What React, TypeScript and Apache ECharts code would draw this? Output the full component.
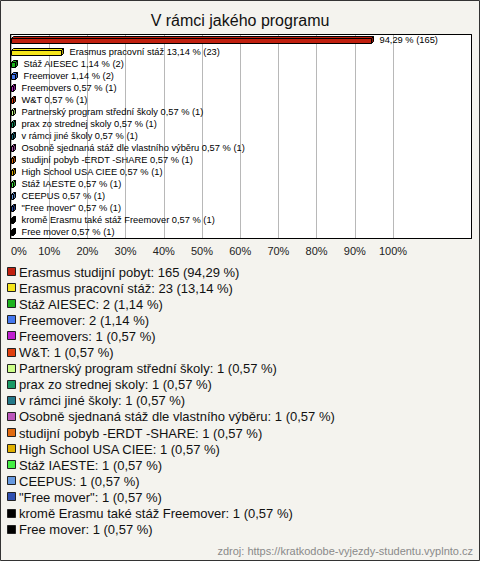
import React, { useEffect, useRef } from "react";
import * as echarts from "echarts";

const title = "V rámci jakého programu";
const categories = [
  "Erasmus studijní pobyt",
  "Erasmus pracovní stáž",
  "Stáž AIESEC",
  "Freemover",
  "Freemovers",
  "W&T",
  "Partnerský program střední školy",
  "prax zo strednej skoly",
  "v rámci jiné školy",
  "Osobně sjednaná stáž dle vlastního výběru",
  "studijní pobyb -ERDT -SHARE",
  "High School USA CIEE",
  "Stáž IAESTE",
  "CEEPUS",
  '"Free mover"',
  "kromě Erasmu také stáž Freemover",
  "Free mover",
];
const counts = [165, 23, 2, 2, 1, 1, 1, 1, 1, 1, 1, 1, 1, 1, 1, 1, 1];
const percents = [94.29, 13.14, 1.14, 1.14, 0.57, 0.57, 0.57, 0.57, 0.57, 0.57, 0.57, 0.57, 0.57, 0.57, 0.57, 0.57, 0.57];
const showNameInBarLabel = [false, true, true, true, true, true, true, true, true, true, true, true, true, true, true, true, true];
const colors = [
  "#c0200f", "#f5e51b", "#1db31d", "#4477ee", "#c020d0", "#e0400f",
  "#ccff88", "#199966", "#227788", "#bb55bb", "#e06a10", "#e0b000",
  "#44ee44", "#6699e0", "#2f4fb0", "#000000", "#000000",
];
const xTicks = [0, 10, 20, 30, 40, 50, 60, 70, 80, 90, 100];
const sourceText = "zdroj: https://kratkodobe-vyjezdy-studentu.vyplnto.cz";

const FONT = "'Liberation Sans', Arial, sans-serif";
const fmtPct = (v: number) => v.toFixed(2).replace(".", ",");

function darken(hex: string, f: number) {
  const n = parseInt(hex.slice(1), 16);
  const r = Math.round(((n >> 16) & 255) * f);
  const g = Math.round(((n >> 8) & 255) * f);
  const b = Math.round((n & 255) * f);
  return `rgb(${r},${g},${b})`;
}

export default function App() {
  const ref = useRef<HTMLDivElement>(null);
  useEffect(() => {
    if (!ref.current) return;
    const chart = echarts.init(ref.current, undefined, { renderer: "svg" });

    const legendTop = 272;
    const legendStep = 16.1;
    const legendElements: any[] = [];
    categories.forEach((c, i) => {
      const cy = legendTop + i * legendStep;
      legendElements.push({
        type: "rect",
        shape: { x: 7.5, y: Math.round(cy) - 4.5, width: 8, height: 8 },
        style: { fill: colors[i], stroke: "#222", lineWidth: 1 },
      });
      legendElements.push({
        type: "text",
        x: 19,
        y: cy,
        style: {
          text: `${c}: ${counts[i]} (${fmtPct(percents[i])} %)`,
          font: `13px ${FONT}`,
          fill: "#111",
          verticalAlign: "middle",
        },
      });
    });

    const option: any = {
      animation: false,
      backgroundColor: "#f4f3ee",
      title: {
        text: title,
        left: "center",
        top: 7,
        textStyle: { fontSize: 16, fontWeight: "normal", color: "#111", fontFamily: FONT },
      },
      grid: { left: 11, right: 87, top: 35, bottom: 322, containLabel: false },
      xAxis: {
        type: "value",
        min: 0,
        max: 100,
        interval: 10,
        axisLine: { show: false },
        axisTick: { show: false },
        splitLine: { show: true, lineStyle: { color: "#b8b8b8", width: 1 } },
        axisLabel: {
          margin: 6,
          fontSize: 11,
          color: "#222",
          fontFamily: FONT,
          alignMinLabel: "left",
          formatter: (v: number) => (xTicks.includes(v) ? `${v}%` : ""),
        },
      },
      yAxis: {
        type: "category",
        inverse: true,
        data: categories,
        show: false,
      },
      graphic: [
        {
          type: "rect",
          z: -100,
          shape: { x: 10.5, y: 34.5, width: 461, height: 204 },
          style: { fill: "#ffffff", stroke: "#000", lineWidth: 1 },
        },
        {
          type: "rect",
          z: 100,
          shape: { x: 10.5, y: 34.5, width: 461, height: 204 },
          style: { fill: "none", stroke: "#000", lineWidth: 1 },
        },
        {
          type: "rect",
          z: 100,
          shape: { x: 0.5, y: 0.5, width: 479, height: 560 },
          style: { fill: "none", stroke: "#333", lineWidth: 1 },
        },
        ...legendElements,
        {
          type: "text",
          right: 7,
          top: 545,
          style: { text: sourceText, font: `11px ${FONT}`, fill: "#8a8a8a" },
        },
      ],
      series: [
        {
          type: "custom",
          coordinateSystem: "cartesian2d",
          encode: { x: 0, y: 1 },
          data: percents.map((p, i) => [p, i]),
          renderItem: (params: any, api: any) => {
            const v = api.value(0);
            const idx = api.value(1);
            const p0 = api.coord([0, idx]);
            const p1 = api.coord([v, idx]);
            const i = params.dataIndex;
            const d = 2;
            const x0 = Math.round(p0[0]) + 0.5;
            const x1 = Math.max(Math.round(p1[0]) + 0.5, x0 + 2);
            const yc = Math.round(p0[1]);
            const yT = yc - 2.5;
            const yB = yc + 2.5;
            const col = colors[i];
            const label = showNameInBarLabel[i]
              ? `${categories[i]} ${fmtPct(percents[i])} % (${counts[i]})`
              : `${fmtPct(percents[i])} % (${counts[i]})`;
            return {
              type: "group",
              children: [
                {
                  type: "polygon",
                  shape: { points: [[x0, yT], [x0 + d, yT - d], [x1 + d, yT - d], [x1, yT]] },
                  style: { fill: col, stroke: "#000", lineWidth: 1 },
                },
                {
                  type: "polygon",
                  shape: { points: [[x1, yT], [x1 + d, yT - d], [x1 + d, yB - d], [x1, yB]] },
                  style: { fill: darken(col, 0.7), stroke: "#000", lineWidth: 1 },
                },
                {
                  type: "rect",
                  shape: { x: x0, y: yT, width: x1 - x0, height: yB - yT },
                  style: { fill: col, stroke: "#000", lineWidth: 1 },
                },
                {
                  type: "text",
                  x: x1 + d + 6,
                  y: yc - 1,
                  style: {
                    text: label,
                    font: `9.3px ${FONT}`,
                    fill: "#000",
                    verticalAlign: "middle",
                  },
                },
              ],
            };
          },
        },
      ],
    };
    chart.setOption(option);
    return () => chart.dispose();
  }, []);
  return (
    <div
      ref={ref}
      style={{ position: "absolute", left: 0, top: 0, width: 480, height: 561 }}
    />
  );
}
